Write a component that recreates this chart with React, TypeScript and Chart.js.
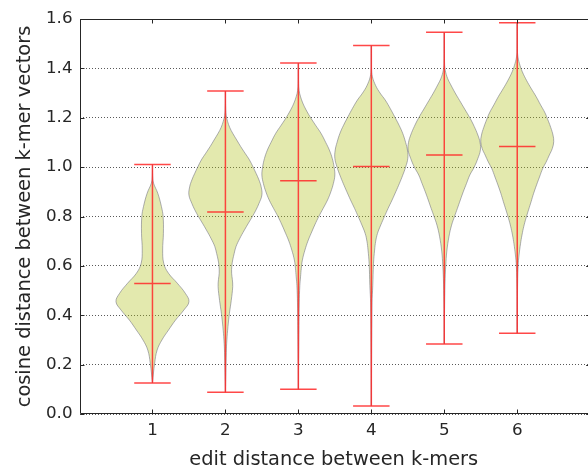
import React, { useEffect, useRef } from "react";
import { Chart, registerables } from "chart.js";

Chart.register(...registerables);

// ---- data ----
const categories = [1, 2, 3, 4, 5, 6];
const minValues = [0.126, 0.088, 0.1, 0.032, 0.284, 0.327];
const maxValues = [1.011, 1.308, 1.422, 1.493, 1.546, 1.585];
const meanValues = [0.529, 0.818, 0.945, 1.003, 1.049, 1.084];

// violin profiles: y levels and half-widths (x units)
const violin1Y = [0.126, 0.206, 0.259, 0.3, 0.34, 0.38, 0.421, 0.455, 0.489, 0.53, 0.57, 0.61, 0.664, 0.732, 0.8, 0.84, 0.894, 0.935, 0.96, 1.011];
const violin1W = [0, 0.03, 0.064, 0.13, 0.22, 0.315, 0.43, 0.5, 0.45, 0.34, 0.22, 0.155, 0.14, 0.15, 0.146, 0.123, 0.073, 0.015, 0.003, 0];
const violin2Y = [0.088, 0.25, 0.3, 0.354, 0.408, 0.46, 0.516, 0.545, 0.57, 0.6, 0.624, 0.65, 0.678, 0.71, 0.745, 0.773, 0.8, 0.827, 0.853, 0.887, 0.92, 0.948, 0.975, 1.0, 1.029, 1.056, 1.083, 1.11, 1.137, 1.16, 1.185, 1.21, 1.25, 1.308];
const violin2W = [0, 0.012, 0.02, 0.035, 0.055, 0.08, 0.1, 0.095, 0.085, 0.088, 0.1, 0.12, 0.145, 0.195, 0.26, 0.315, 0.37, 0.42, 0.46, 0.5, 0.49, 0.46, 0.42, 0.38, 0.33, 0.27, 0.21, 0.155, 0.1, 0.06, 0.03, 0.01, 0.002, 0];
const violin3Y = [0.1, 0.3, 0.45, 0.52, 0.556, 0.59, 0.624, 0.664, 0.7, 0.732, 0.766, 0.8, 0.833, 0.867, 0.9, 0.934, 0.968, 1.0, 1.035, 1.069, 1.1, 1.137, 1.17, 1.204, 1.235, 1.26, 1.285, 1.31, 1.34, 1.422];
const violin3W = [0, 0.006, 0.012, 0.02, 0.03, 0.04, 0.055, 0.09, 0.13, 0.175, 0.225, 0.28, 0.34, 0.4, 0.445, 0.48, 0.5, 0.49, 0.465, 0.425, 0.375, 0.31, 0.235, 0.16, 0.1, 0.06, 0.03, 0.01, 0.003, 0];
const violin4Y = [0.032, 0.45, 0.52, 0.61, 0.664, 0.7, 0.732, 0.766, 0.8, 0.833, 0.867, 0.9, 0.934, 0.967, 1.0, 1.036, 1.069, 1.1, 1.137, 1.17, 1.204, 1.237, 1.272, 1.3, 1.33, 1.366, 1.4, 1.493];
const violin4W = [0, 0.01, 0.02, 0.03, 0.045, 0.06, 0.085, 0.13, 0.18, 0.23, 0.285, 0.335, 0.385, 0.43, 0.47, 0.5, 0.495, 0.47, 0.43, 0.38, 0.32, 0.26, 0.19, 0.12, 0.06, 0.015, 0.003, 0];
const violin5Y = [0.284, 0.45, 0.55, 0.6, 0.66, 0.72, 0.765, 0.8, 0.833, 0.867, 0.9, 0.934, 0.968, 1.0, 1.035, 1.069, 1.1, 1.13, 1.165, 1.2, 1.235, 1.27, 1.3, 1.333, 1.36, 1.39, 1.42, 1.546];
const violin5W = [0, 0.005, 0.012, 0.02, 0.035, 0.065, 0.1, 0.14, 0.18, 0.22, 0.26, 0.305, 0.35, 0.41, 0.46, 0.495, 0.49, 0.46, 0.41, 0.35, 0.28, 0.21, 0.15, 0.09, 0.045, 0.015, 0.004, 0];
const violin6Y = [0.327, 0.5, 0.6, 0.644, 0.69, 0.725, 0.76, 0.793, 0.827, 0.86, 0.894, 0.928, 0.96, 0.995, 1.02, 1.049, 1.075, 1.103, 1.13, 1.16, 1.184, 1.22, 1.252, 1.285, 1.319, 1.35, 1.386, 1.42, 1.45, 1.48, 1.585];
const violin6W = [0, 0.004, 0.012, 0.025, 0.045, 0.065, 0.09, 0.12, 0.155, 0.19, 0.225, 0.265, 0.305, 0.35, 0.395, 0.44, 0.48, 0.5, 0.49, 0.46, 0.43, 0.38, 0.32, 0.26, 0.19, 0.13, 0.07, 0.03, 0.008, 0.002, 0];

const violinYs = [violin1Y, violin2Y, violin3Y, violin4Y, violin5Y, violin6Y];
const violinWs = [violin1W, violin2W, violin3W, violin4W, violin5W, violin6W];

const yTickValues = [0, 0.2, 0.4, 0.6, 0.8, 1.0, 1.2, 1.4, 1.6];
const xTitle = "edit distance between k-mers";
const yTitle = "cosine distance between k-mer vectors";

const CAP_HALF = 0.25;
const X_AXIS_END = 7; // full axis extent (right spine sits just off the canvas)
const X_VISIBLE_MAX = 6.97;

function buildOutline(center: number, ys: number[], ws: number[]) {
  const pts: { x: number; y: number }[] = [];
  for (let i = 0; i < ys.length; i++) pts.push({ x: center + ws[i], y: ys[i] });
  for (let i = ys.length - 2; i >= 0; i--) pts.push({ x: center - ws[i], y: ys[i] });
  return pts;
}

function buildLines() {
  const pts: { x: number; y: number | null }[] = [];
  categories.forEach((c, i) => {
    pts.push({ x: c, y: minValues[i] }, { x: c, y: maxValues[i] }, { x: c, y: null });
    [minValues[i], maxValues[i], meanValues[i]].forEach((v) => {
      pts.push({ x: c - CAP_HALF, y: v }, { x: c + CAP_HALF, y: v }, { x: c, y: null });
    });
  });
  return pts;
}

const frame = {
  id: "frame",
  afterDraw(chart: any) {
    const { ctx, chartArea: a, scales } = chart;
    const xs = scales.x;
    const ys = scales.y;
    ctx.save();
    ctx.strokeStyle = "#262626";
    ctx.lineWidth = 1;
    ctx.beginPath();
    const L = Math.round(a.left) + 0.5;
    const R = xs.getPixelForValue(X_AXIS_END);
    const T = Math.round(a.top) + 0.5;
    const B = Math.round(a.bottom) - 0.5;
    ctx.rect(L, T, R - L, B - T);
    categories.forEach((c) => {
      const px = Math.round(xs.getPixelForValue(c)) + 0.5;
      ctx.moveTo(px, B);
      ctx.lineTo(px, B - 4);
      ctx.moveTo(px, T);
      ctx.lineTo(px, T + 4);
    });
    yTickValues.forEach((v) => {
      const py = Math.round(ys.getPixelForValue(v)) + 0.5;
      ctx.moveTo(L, py);
      ctx.lineTo(L + 4, py);
      ctx.moveTo(R, py);
      ctx.lineTo(R - 4, py);
    });
    ctx.stroke();
    ctx.restore();
  },
};

export default function App() {
  const ref = useRef<HTMLCanvasElement | null>(null);
  useEffect(() => {
    if (!ref.current) return;
    const font = "'DejaVu Sans', sans-serif";
    const violinSets = categories.map((c, i) => ({
      label: "violin " + c,
      data: buildOutline(c, violinYs[i], violinWs[i]),
      fill: "shape",
      backgroundColor: "rgba(175,192,24,0.35)",
      borderColor: "rgba(110,110,125,0.55)",
      borderWidth: 1,
      pointRadius: 0,
      tension: 0.4,
      order: 1,
    }));
    const chart = new Chart(ref.current, {
      type: "line",
      data: {
        datasets: [
          {
            label: "range",
            data: buildLines(),
            borderColor: "rgba(255,40,40,0.85)",
            borderWidth: 1.5,
            pointRadius: 0,
            fill: false,
            spanGaps: false,
            tension: 0,
            order: 0,
          },
          ...violinSets,
        ] as any,
      },
      options: {
        responsive: false,
        animation: false,
        events: [],
        layout: { padding: { top: 19, right: 0, left: 0, bottom: 0 } },
        plugins: { legend: { display: false }, tooltip: { enabled: false } },
        scales: {
          x: {
            type: "linear",
            min: 0,
            max: X_VISIBLE_MAX,
            grid: { display: false, drawTicks: false },
            border: { display: false },
            ticks: {
              stepSize: 1,
              autoSkip: false,
              maxRotation: 0,
              padding: 7,
              color: "#262626",
              font: { family: font, size: 16.7 },
              callback: (v: any) => (v >= 1 && v <= 6 ? String(v) : ""),
            },
            title: {
              display: true,
              text: xTitle,
              color: "#262626",
              font: { family: font, size: 19.4 },
              padding: { top: 0, bottom: -5 },
            },
            afterFit: (s: any) => {
              s.height = 53;
              s.paddingLeft = 0;
              s.paddingRight = 0;
            },
          },
          y: {
            type: "linear",
            min: 0,
            max: 1.6,
            grid: { display: true, drawTicks: false, color: "rgba(0,0,0,0.65)", lineWidth: 1 },
            border: { display: false, dash: [1, 2] },
            ticks: {
              stepSize: 0.2,
              padding: 7,
              color: "#262626",
              font: { family: font, size: 16.7 },
              callback: (v: any) => Number(v).toFixed(1),
            },
            title: {
              display: true,
              text: yTitle,
              color: "#262626",
              font: { family: font, size: 19.4 },
              padding: { top: 13, bottom: 0 },
            },
            afterFit: (s: any) => {
              s.width = 79.5;
            },
          },
        },
      } as any,
      plugins: [frame],
    });
    return () => chart.destroy();
  }, []);
  return (
    <div style={{ position: "fixed", left: 0, top: 0, width: 588, height: 467, background: "#fff" }}>
      <canvas ref={ref} width={588} height={467} />
    </div>
  );
}
